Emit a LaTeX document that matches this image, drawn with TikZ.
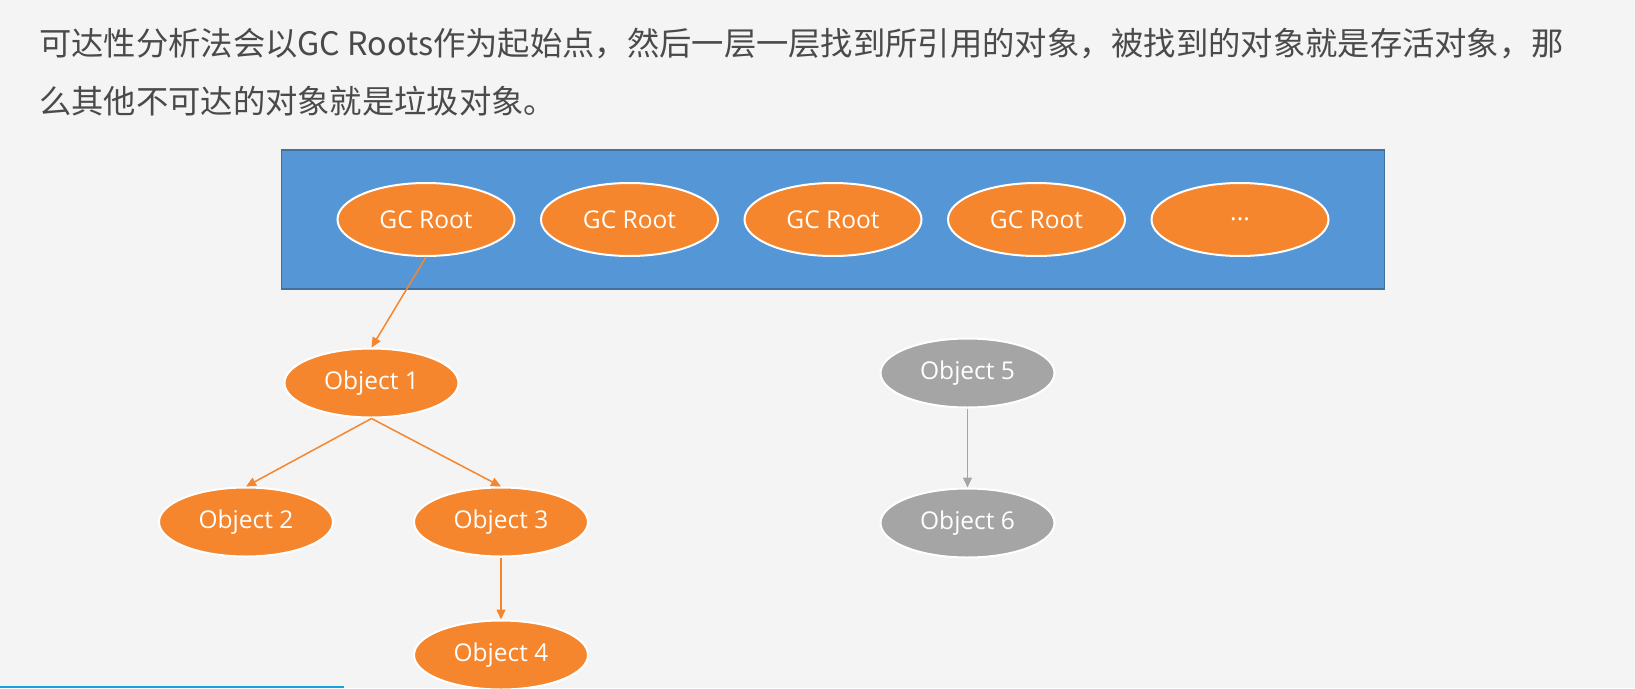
\documentclass[tikz,border=0pt]{standalone}
\usepackage{fontspec}
\setmainfont{Open Sans}
\newfontfamily\cjk{Noto Sans CJK SC}
\usepackage{xcolor}
\usetikzlibrary{arrows.meta,positioning,shapes.geometric,fit,backgrounds}

\definecolor{pagebg}{HTML}{F4F4F4}
\definecolor{boxblue}{HTML}{5597D6}
\definecolor{boxedge}{HTML}{41719C}
\definecolor{liveorange}{HTML}{F5862D}
\definecolor{deadgray}{HTML}{A5A5A5}
\definecolor{textgray}{HTML}{4A4A4A}
\definecolor{barblue}{HTML}{1BA1E2}

\begin{document}
\begin{tikzpicture}[
  x=1pt, y=-1pt,
  >={Triangle[length=10pt,width=9pt]},
  every node/.style={font=\fontsize{24.5}{29}\selectfont},
  obj/.style={ellipse, draw=white, line width=2pt, text=white, inner sep=0pt,
    minimum width=174pt, minimum height=69pt},
  live/.style={obj, fill=liveorange},
  dead/.style={obj, fill=deadgray},
  gcroot/.style={live, minimum width=177pt, minimum height=73pt},
  rootbox/.style={rectangle, draw=boxedge, line width=1.2pt, fill=boxblue,
    inner xsep=55pt, inner ysep=32pt},
  liveref/.style={->, draw=liveorange, line width=1.5pt},
  deadref/.style={->, draw=deadgray, line width=1.5pt},
  headline/.style={anchor=west, inner sep=0pt, text=textgray,
    font=\cjk\fontsize{32.3}{40}\selectfont},
]

% Page
\begin{scope}[on background layer]
  \fill[pagebg] (0,0) rectangle (1635,688);
\end{scope}
\useasboundingbox (0,0) rectangle (1635,688);

% Text
\node[headline] (line1) at (39,44) {可达性分析法会以GC Roots作为起始点，然后一层一层找到所引用的对象，被找到的对象就是存活对象，那};
\node[headline] (line2) at (39,101) {么其他不可达的对象就是垃圾对象。};

% GC roots
\node[gcroot] (gc1) at (426,219.5) {GC Root};
\node[gcroot, right=24.5pt of gc1] (gc2) {GC Root};
\node[gcroot, right=24.5pt of gc2] (gc3) {GC Root};
\node[gcroot, right=24.5pt of gc3] (gc4) {GC Root};
\node[gcroot, right=24.5pt of gc4] (gc5) {...};

\begin{scope}[on background layer]
  \node[rootbox, fit=(gc1)(gc5)] (roots) {};
\end{scope}

% Objects
\node[live] (obj1) at (371.5,383) {Object 1};
\node[live] (obj2) at (246,522) {Object 2};
\node[live] (obj3) at (501,522) {Object 3};
\node[live, below=62pt of obj3] (obj4) {Object 4};
\node[dead] (obj5) at (967.5,373) {Object 5};
\node[dead, below=79pt of obj5] (obj6) {Object 6};

% References
\draw[liveref] (gc1.south) -- (obj1.north);
\draw[liveref] (obj1.south) -- (obj2.north);
\draw[liveref] (obj1.south) -- (obj3.north);
\draw[liveref] (obj3) -- (obj4);
\draw[deadref] (obj5) -- (obj6);

% Progress bar
\draw[barblue, line width=2pt] (0,687) -- (344,687);

\end{tikzpicture}
\end{document}
